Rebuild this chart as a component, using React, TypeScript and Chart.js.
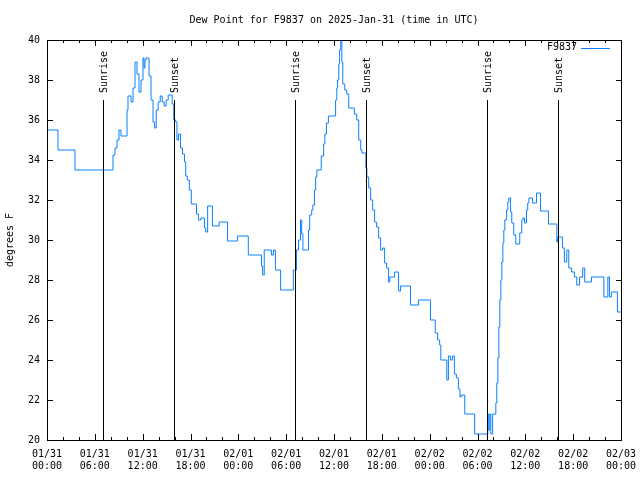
import React, { useEffect, useRef } from "react";
import { Chart, registerables } from "chart.js";

Chart.register(...registerables);

const FONT = '"DejaVu Sans Mono", "Liberation Mono", monospace';

const TITLE = "Dew Point for F9837 on 2025-Jan-31 (time in UTC)";
const Y_TITLE = "degrees F";
const SERIES_NAME = "F9837";
const SERIES_COLOR = "#0a80ff";

const X_TICK_HOURS = [0, 6, 12, 18, 24, 30, 36, 42, 48, 54, 60, 66, 72];
const X_TICK_DATES = ["01/31", "01/31", "01/31", "01/31", "02/01", "02/01", "02/01", "02/01", "02/02", "02/02", "02/02", "02/02", "02/03"];
const X_TICK_TIMES = ["00:00", "06:00", "12:00", "18:00", "00:00", "06:00", "12:00", "18:00", "00:00", "06:00", "12:00", "18:00", "00:00"];
const Y_TICKS = [20, 22, 24, 26, 28, 30, 32, 34, 36, 38, 40];

const SUNRISE_HOURS = [7.06, 31.11, 55.15];
const SUNSET_HOURS = [15.97, 40.01, 64.14];

// hours since 01/31 00:00 UTC (value holds from this hour onward)
const DEW_HOURS = [
  0, 1.38, 3.51, 8.28, 8.53, 8.78, 9.03, 9.28, 10.04, 10.16, 10.54, 10.79, 11.04, 11.29, 11.54, 11.8,
  12.04, 12.17, 12.29, 12.42, 12.8, 13.05, 13.3, 13.5, 13.7, 13.95, 14.2, 14.45, 14.7, 14.95, 15.2, 15.7,
  15.9, 16.15, 16.3, 16.5, 16.75, 17.0, 17.25, 17.4, 17.6, 17.85, 18.1, 18.75, 19.0, 19.3, 19.75, 19.9,
  20.15, 20.75, 21.6, 22.65, 23.9, 25.25, 26.9, 27.05, 27.25, 28.15, 28.4, 28.65, 29.3, 30.9,
  31.3, 31.55, 31.8, 31.95, 32.1, 32.8, 32.95, 33.2, 33.35, 33.55, 33.7, 33.85, 34.4, 34.7, 34.85, 35.05,
  35.3, 36.2, 36.35, 36.45, 36.6, 36.7, 36.85, 36.98, 37.1, 37.35, 37.6, 37.85, 38.55, 38.85, 39.1, 39.35,
  39.5, 40.0, 40.12, 40.35, 40.6, 40.85, 41.1, 41.35, 41.6, 41.85, 42.1, 42.35, 42.6, 42.85, 43.0, 43.6,
  44.1, 44.35, 45.6, 46.6, 48.1, 48.7, 49.0, 49.25, 49.4, 50.15, 50.35, 50.6, 50.85, 51.1, 51.35, 51.6,
  51.8, 51.95, 52.4, 53.65, 55.3, 55.42, 55.55, 55.67, 55.9, 56.3, 56.42, 56.55, 56.68, 56.8, 56.93, 57.05,
  57.18, 57.3, 57.43, 57.65, 57.8, 57.93, 58.15, 58.3, 58.55, 58.8, 59.3, 59.55, 59.7, 59.9, 60.15, 60.3,
  60.45, 60.9, 61.4, 61.9, 62.9, 63.95, 64.05, 64.65, 64.9, 65.2, 65.45, 65.8, 66.15, 66.45, 66.8, 67.2,
  67.45, 68.3, 69.85, 70.35, 70.55, 70.8, 71.55, 72,
];

// dew point, degrees F
const DEW_VALUES = [
  35.5, 34.5, 33.5, 34.25, 34.6, 35.0, 35.5, 35.2, 36.5, 37.2, 36.9, 37.6, 38.9, 38.3, 37.4, 38.0,
  39.1, 38.6, 39.0, 39.1, 38.2, 37.0, 35.9, 35.6, 36.5, 36.9, 37.2, 36.9, 36.7, 37.0, 37.25, 36.8,
  36.0, 35.9, 35.0, 35.3, 34.6, 34.3, 33.9, 33.2, 33.0, 32.5, 31.8, 31.3, 31.0, 31.1, 30.6, 30.4,
  31.7, 30.7, 30.9, 29.95, 30.2, 29.25, 28.7, 28.25, 29.5, 29.25, 29.5, 28.5, 27.5, 28.5,
  29.5, 30.0, 31.0, 30.3, 29.5, 30.5, 31.25, 31.5, 31.75, 32.5, 33.15, 33.5, 34.2, 34.8, 35.3, 35.85,
  36.2, 37.0, 37.6, 38.0, 38.8, 39.5, 40.0, 38.9, 37.8, 37.5, 37.3, 36.6, 36.3, 36.0, 35.0, 34.5,
  34.35, 33.6, 33.15, 32.6, 32.0, 31.5, 30.9, 30.65, 30.1, 29.5, 29.6, 28.85, 28.6, 27.9, 28.15, 28.4,
  27.45, 27.7, 26.75, 27.0, 26.0, 25.35, 25.0, 24.75, 24.0, 23.0, 24.2, 24.0, 24.2, 23.3, 23.1, 22.55,
  22.15, 22.25, 21.3, 20.3, 21.3, 20.5, 21.3, 20.3, 21.3, 21.85, 22.85, 24.1, 25.65, 27.0, 28.0, 28.9,
  29.85, 30.5, 31.0, 31.5, 31.9, 32.1, 31.4, 30.85, 30.25, 29.8, 30.35, 31.0, 31.1, 30.85, 31.5, 31.85,
  32.1, 31.85, 32.35, 31.45, 30.8, 29.9, 30.15, 29.6, 28.9, 29.5, 28.6, 28.4, 28.15, 27.75, 28.15, 28.6,
  27.9, 28.15, 27.15, 28.15, 27.15, 27.4, 26.4, 26.4,
];

const gnuplotLook = {
  id: "gnuplotLook",
  beforeDraw(chart: any) {
    const { ctx, width, height } = chart;
    ctx.save();
    ctx.fillStyle = "#ffffff";
    ctx.fillRect(0, 0, width, height);
    ctx.restore();
  },
  afterDatasetsDraw(chart: any) {
    const { ctx, chartArea: a, scales } = chart;
    const xs = scales.x;
    ctx.save();
    ctx.strokeStyle = "#000";
    ctx.lineWidth = 1;
    ctx.fillStyle = "#000";
    ctx.font = "10px " + FONT;
    const topY = a.bottom - 0.85 * (a.bottom - a.top);
    const drawSun = (hours: number[], label: string) => {
      for (const h of hours) {
        const px = Math.round(xs.getPixelForValue(h)) + 0.5;
        ctx.beginPath();
        ctx.moveTo(px, a.bottom);
        ctx.lineTo(px, topY);
        ctx.stroke();
        ctx.save();
        ctx.translate(px + 1, 93);
        ctx.rotate(-Math.PI / 2);
        ctx.textAlign = "left";
        ctx.textBaseline = "middle";
        ctx.fillText(label, 0, 0);
        ctx.restore();
      }
    };
    drawSun(SUNRISE_HOURS, "Sunrise");
    drawSun(SUNSET_HOURS, "Sunset");
    ctx.restore();
  },
  afterDraw(chart: any) {
    const { ctx, chartArea: a, scales } = chart;
    const xs = scales.x;
    const ys = scales.y;
    ctx.save();
    ctx.strokeStyle = "#000";
    ctx.lineWidth = 1;
    ctx.beginPath();
    for (const v of Y_TICKS) {
      const py = Math.round(ys.getPixelForValue(v)) + 0.5;
      ctx.moveTo(a.left, py);
      ctx.lineTo(a.left + 6, py);
      ctx.moveTo(a.right + 1, py);
      ctx.lineTo(a.right - 5, py);
    }
    for (let h = 0; h <= 72; h += 2) {
      const len = h % 6 === 0 ? 6 : 3;
      const px = Math.round(xs.getPixelForValue(h)) + 0.5;
      ctx.moveTo(px, a.bottom);
      ctx.lineTo(px, a.bottom - len);
      ctx.moveTo(px, a.top);
      ctx.lineTo(px, a.top + len);
    }
    ctx.stroke();
    ctx.strokeRect(a.left + 0.5, a.top + 0.5, a.right - a.left, a.bottom - a.top);

    ctx.fillStyle = "#000";
    ctx.font = "10px " + FONT;
    ctx.textAlign = "center";
    ctx.textBaseline = "middle";
    ctx.fillText(TITLE, (a.left + a.right) / 2, 20);

    ctx.save();
    ctx.translate(10, 240);
    ctx.rotate(-Math.PI / 2);
    ctx.fillText(Y_TITLE, 0, 0);
    ctx.restore();

    ctx.textAlign = "right";
    ctx.fillText(SERIES_NAME, 577, 47);
    ctx.strokeStyle = SERIES_COLOR;
    ctx.beginPath();
    ctx.moveTo(581, 48.5);
    ctx.lineTo(610, 48.5);
    ctx.stroke();
    ctx.restore();
  },
};

export default function App() {
  const canvasRef = useRef<HTMLCanvasElement | null>(null);

  useEffect(() => {
    const canvas = canvasRef.current;
    if (!canvas) return;
    const points = DEW_HOURS.map((h, i) => ({ x: h, y: DEW_VALUES[i] }));
    const chart = new Chart(canvas, {
      type: "line",
      data: {
        datasets: [
          {
            label: SERIES_NAME,
            data: points,
            borderColor: SERIES_COLOR,
            borderWidth: 1,
            pointRadius: 0,
            stepped: "before",
            fill: false,
          },
        ],
      },
      options: {
        animation: false,
        responsive: false,
        devicePixelRatio: 1,
        layout: { padding: { left: 0, top: 40, right: 19, bottom: 0 } },
        plugins: {
          legend: { display: false },
          tooltip: { enabled: false },
          title: { display: false },
        },
        scales: {
          x: {
            type: "linear",
            min: 0,
            max: 72,
            grid: { display: false, drawTicks: false },
            border: { display: false },
            afterFit: (scale: any) => {
              scale.height = 40;
              scale.paddingLeft = 0;
              scale.paddingRight = 0;
            },
            ticks: {
              stepSize: 6,
              autoSkip: false,
              maxRotation: 0,
              minRotation: 0,
              padding: 8,
              color: "#000",
              font: { family: FONT, size: 10, lineHeight: 1.25 },
              callback: (value: any) => {
                const idx = X_TICK_HOURS.indexOf(Number(value));
                return idx >= 0 ? [X_TICK_DATES[idx], X_TICK_TIMES[idx]] : "";
              },
            },
          },
          y: {
            type: "linear",
            min: 20,
            max: 40,
            grid: { display: false, drawTicks: false },
            border: { display: false },
            afterFit: (scale: any) => {
              scale.width = 47;
              scale.paddingTop = 0;
              scale.paddingBottom = 0;
            },
            ticks: {
              stepSize: 2,
              padding: 7,
              color: "#000",
              font: { family: FONT, size: 10 },
              callback: (value: any) => String(value),
            },
          },
        },
      },
      plugins: [gnuplotLook],
    });
    return () => chart.destroy();
  }, []);

  return (
    <div style={{ position: "absolute", left: 0, top: 0, width: 640, height: 480, background: "#fff" }}>
      <canvas ref={canvasRef} width={640} height={480} style={{ display: "block" }} />
    </div>
  );
}
